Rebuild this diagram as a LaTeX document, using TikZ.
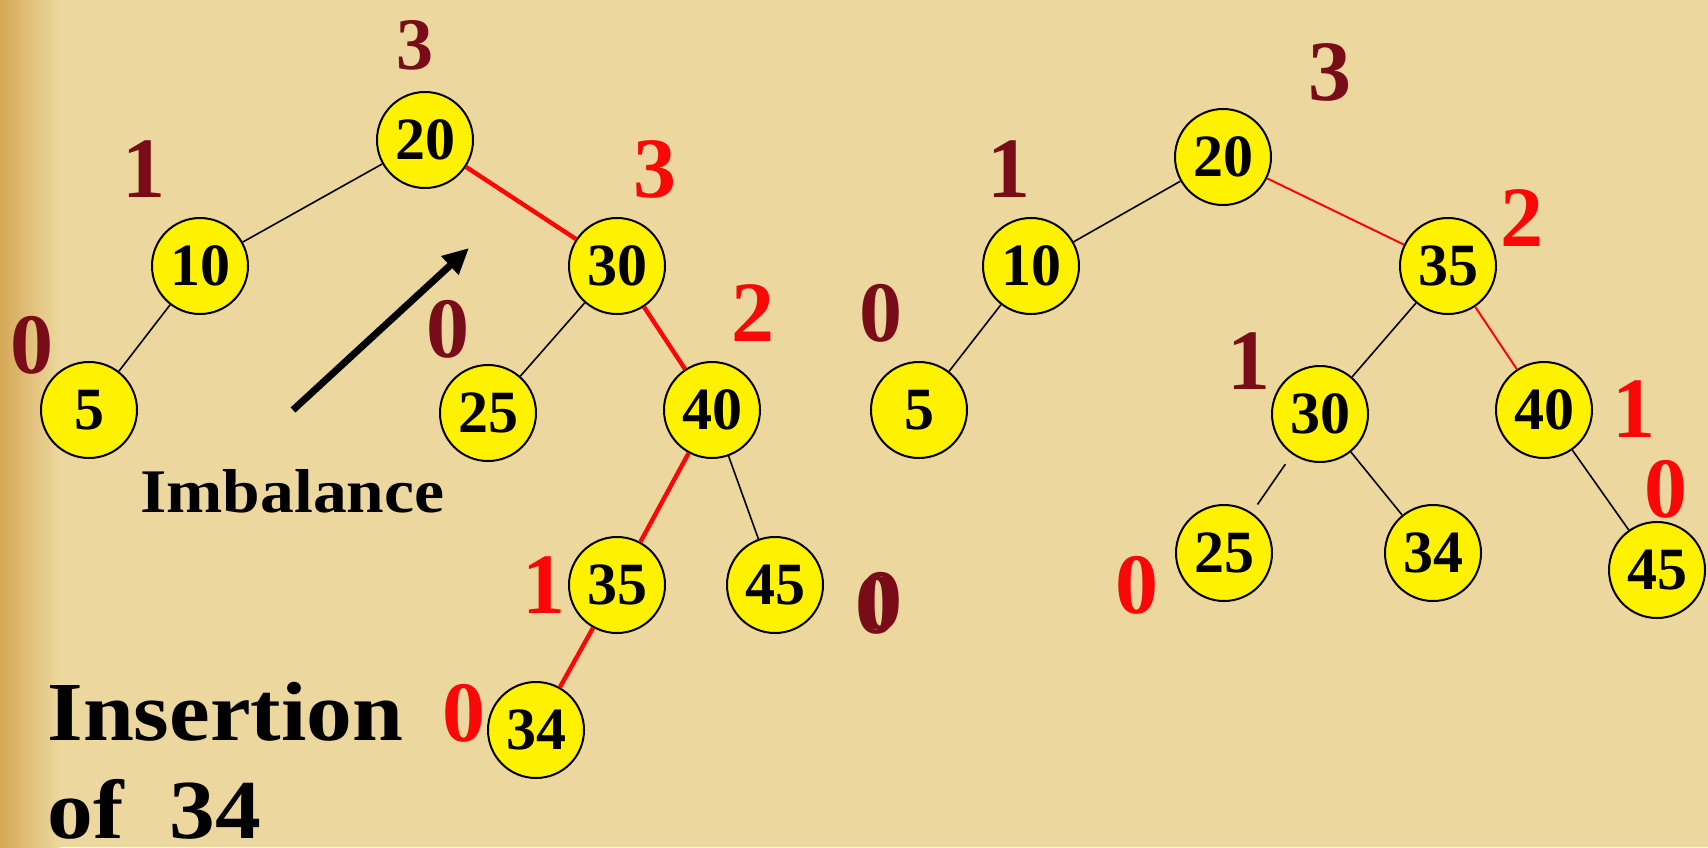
\documentclass[tikz,border=0pt]{standalone}
\usepackage{fontspec}
\newfontfamily\tnr{Liberation Serif}
\newfontfamily\palfont[FakeStretch=1.09]{Liberation Serif}
\usetikzlibrary{arrows.meta}
\definecolor{bg}{RGB}{236,216,158}
\definecolor{bgdark}{RGB}{214,168,88}
\definecolor{dred}{RGB}{120,12,25}
\definecolor{hred}{RGB}{250,8,8}
\tikzset{
  nd/.style={circle, draw=black, line width=1pt, fill=yellow, minimum size=48pt, inner sep=0pt,
    font=\tnr\bfseries\fontsize{30}{30}\selectfont},
  lbl/.style={inner sep=0pt, font=\tnr\bfseries\fontsize{43}{43}\selectfont},
  dlbl/.style={lbl, text=dred},
  rlbl/.style={lbl, text=hred},
  caption/.style={anchor=base west, inner sep=0pt},
  thin edge/.style={draw=black, line width=0.8pt},
  thick red/.style={draw=hred, line width=2.2pt},
  thin red/.style={draw=hred, line width=1pt},
}
\begin{document}
\begin{tikzpicture}[x=0.5pt, y=-0.5pt]
\fill[bg] (0,0) rectangle (1708,847);
\shade[left color=bgdark, right color=bg] (0,0) rectangle (60,847);
\useasboundingbox (0,0) rectangle (1708,847);

% left tree nodes
\node[nd] (L20) at (425,140) {20};
\node[nd] (L10) at (200,266) {10};
\node[nd] (L30) at (617,266) {30};
\node[nd] (L5)  at (89,410) {5};
\node[nd] (L25) at (488,413) {25};
\node[nd] (L40) at (712,410) {40};
\node[nd] (L35) at (617,585) {35};
\node[nd] (L45) at (775,585) {45};
\node[nd] (L34) at (536,730) {34};

% left tree edges
\draw[thin edge] (L20) -- (L10);
\draw[thin edge] (L10) -- (L5);
\draw[thin edge] (L30) -- (L25);
\draw[thin edge] (L40) -- (L45);
\draw[thick red] (L20) -- (L30);
\draw[thick red] (L30) -- (L40);
\draw[thick red] (L40) -- (L35);
\draw[thick red] (L35) -- (L34);

% left labels
\node[dlbl, font=\tnr\bfseries\fontsize{37}{37}\selectfont] (l1) at (415,45) {3};
\node[dlbl] (l2) at (144,169) {1};
\node[rlbl] (l3) at (655,169) {3};
\node[dlbl] (l4) at (32,345) {0};
\node[dlbl] (l5) at (448,329) {0};
\node[rlbl] (l6) at (753,313) {2};
\node[rlbl] (l7) at (544,585) {1};
\node[rlbl] (l8) at (464,713) {0};
\node[dlbl] (l9) at (877,605) {0};

% imbalance arrow
\coordinate (as) at (293,410);
\coordinate (ae) at (469,248);
\draw[line width=3.5pt, -{Triangle[length=13pt,width=12pt]}] (as) -- (ae);
\node[caption, font=\palfont\bfseries\fontsize{31}{31}\selectfont] (imb) at (140,512) {Imbalance};
\node[caption, font=\palfont\bfseries\fontsize{42}{42}\selectfont] (ins) at (47,740) {Insertion};
\node[caption, font=\palfont\bfseries\fontsize{42}{42}\selectfont] (of) at (47,838) {of\ \ 34};

% right tree nodes
\node[nd] (R20) at (1223,157) {20};
\node[nd] (R10) at (1031,266) {10};
\node[nd] (R35) at (1448,266) {35};
\node[nd] (R5)  at (919,410) {5};
\node[nd] (R30) at (1320,414) {30};
\node[nd] (R40) at (1544,410) {40};
\node[nd] (R25) at (1224,553) {25};
\node[nd] (R34) at (1433,553) {34};
\node[nd] (R45) at (1657,570) {45};

% right tree edges
\draw[thin edge] (R20) -- (R10);
\draw[thin edge] (R10) -- (R5);
\draw[thin edge] (R35) -- (R30);
\draw[thin edge, shorten <=6pt, shorten >=5pt] (R30) -- (R25);
\draw[thin edge] (R30) -- (R34);
\draw[thin edge] (R40) -- (R45);
\draw[thin red] (R20) -- (R35);
\draw[thin red] (R35) -- (R40);

% right labels
\node[dlbl] (r1) at (1330,72) {3};
\node[dlbl] (r2) at (1009,169) {1};
\node[rlbl] (r3) at (1522,218) {2};
\node[dlbl] (r4) at (881,313) {0};
\node[dlbl] (r5) at (1249,361) {1};
\node[rlbl] (r6) at (1634,409) {1};
\node[rlbl] (r7) at (1666,489) {0};
\node[rlbl] (r8) at (1137,585) {0};
\node[dlbl] (r9) at (881,601) {0};
\end{tikzpicture}
\end{document}
